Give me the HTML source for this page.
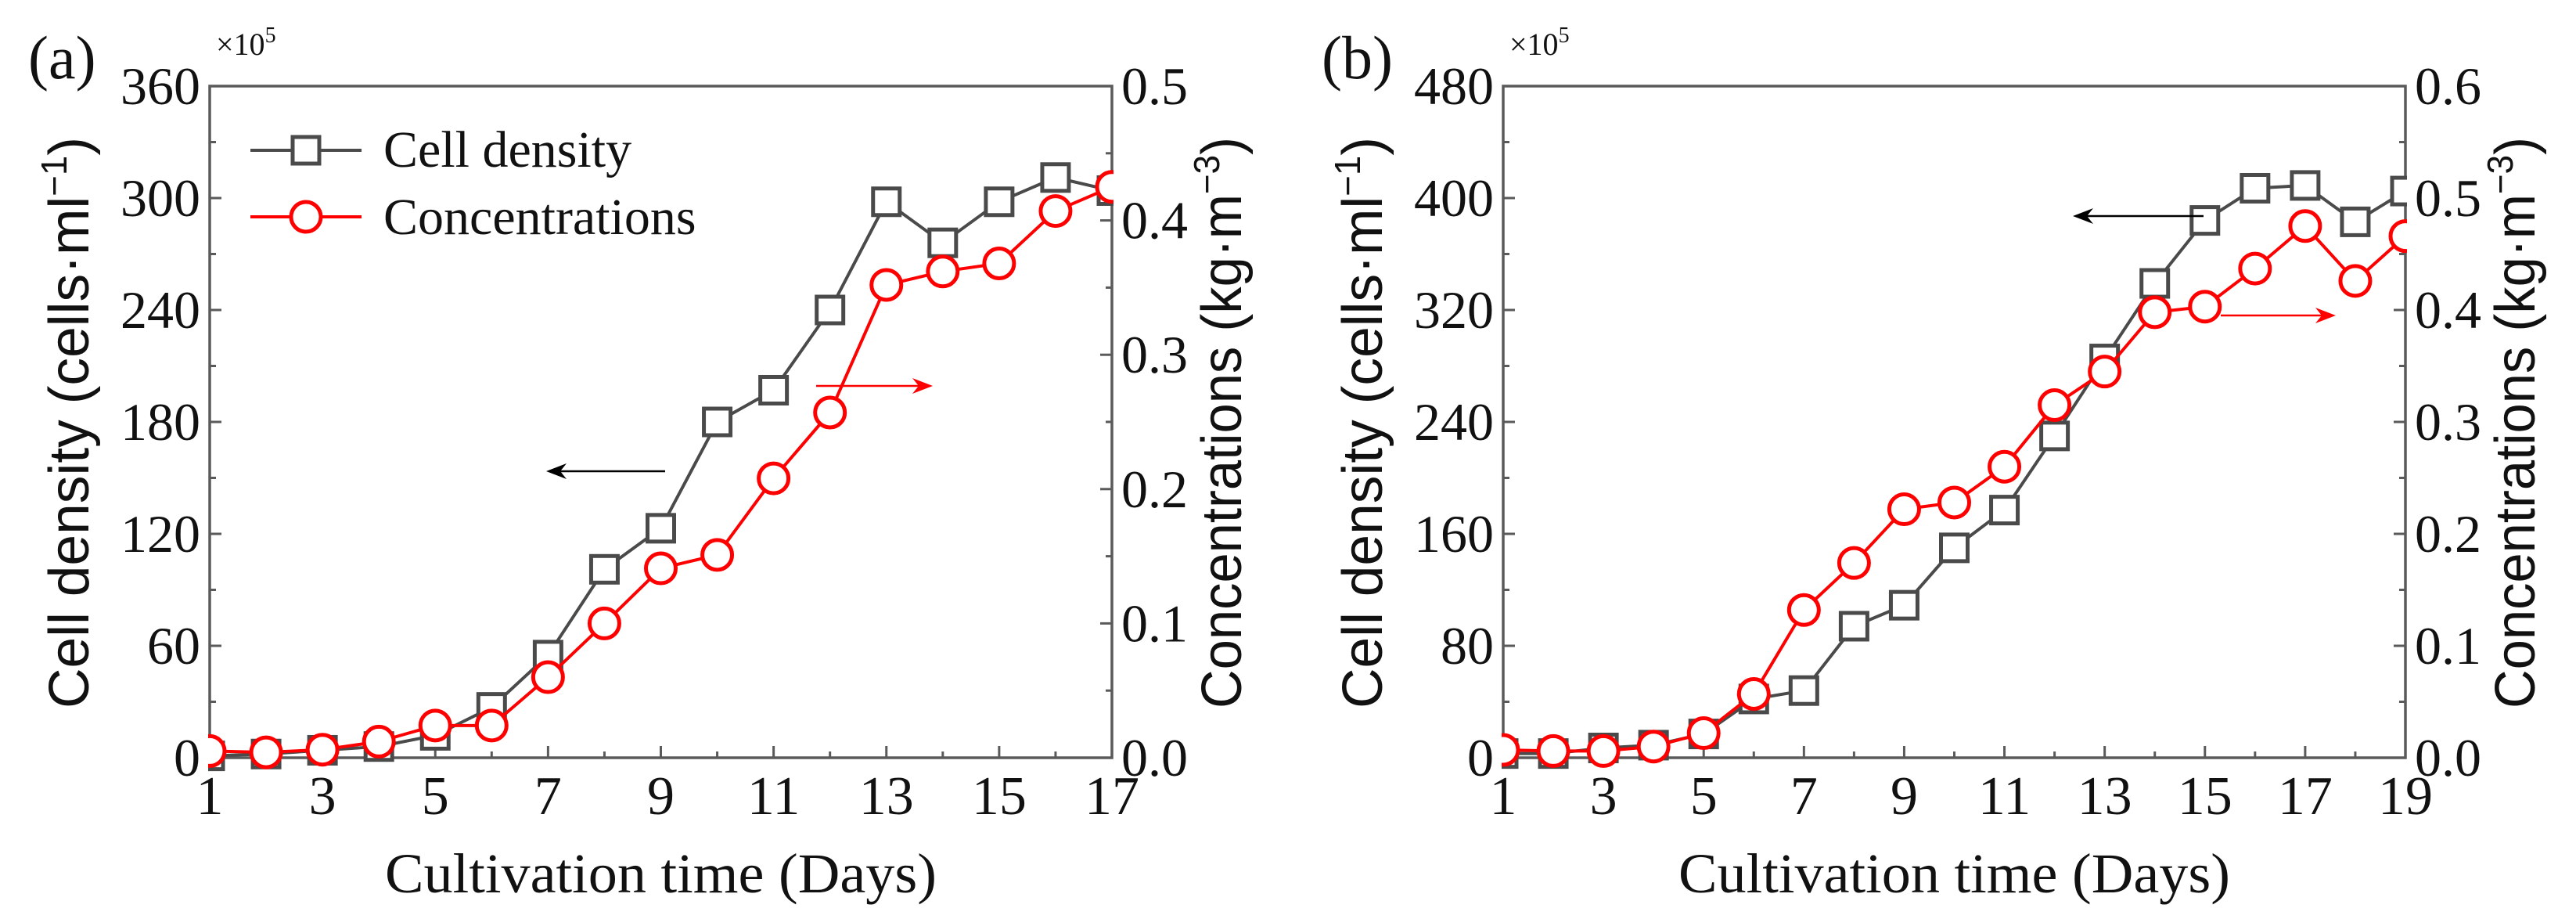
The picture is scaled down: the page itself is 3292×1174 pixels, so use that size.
<!DOCTYPE html>
<html><head><meta charset="utf-8"><style>
html,body{margin:0;padding:0;background:#fff}
svg{display:block}
text{font-family:"Liberation Serif",serif}
text.sans{font-family:"Liberation Sans",sans-serif}
</style></head><body>
<svg id="chart" width="3292" height="1174" viewBox="0 0 3292 1174" xmlns="http://www.w3.org/2000/svg"></svg>
<script>
const daysA=[1,2,3,4,5,6,7,8,9,10,11,12,13,14,15,16,17];
const cellA=[1,2,4,6,12,27,55,101,123,180,197,240,298,276,298,311,304];
const concA=[0.005,0.004,0.006,0.012,0.024,0.024,0.06,0.10,0.141,0.151,0.208,0.257,0.352,0.362,0.368,0.407,0.425];
const daysB=[1,2,3,4,5,6,7,8,9,10,11,12,13,14,15,16,17,18,19];
const cellB=[3,3,7,9,17,42,48,94,109,150,177,230,285,339,384,407,409,383,405];
const concB=[0.007,0.006,0.006,0.010,0.022,0.057,0.132,0.174,0.222,0.228,0.260,0.315,0.345,0.398,0.403,0.437,0.475,0.426,0.466];
const xTicksA=[1,3,5,7,9,11,13,15,17];
const xTicksB=[1,3,5,7,9,11,13,15,17,19];
const yTicksA=[0,60,120,180,240,300,360];
const yTicksB=[0,80,160,240,320,400,480];
const y2TicksA=[0.0,0.1,0.2,0.3,0.4,0.5];
const y2TicksB=[0.0,0.1,0.2,0.3,0.4,0.5,0.6];

const NS="http://www.w3.org/2000/svg";
const svg=document.getElementById('chart');
function mk(tag,attrs,parent,text){const e=document.createElementNS(NS,tag);for(const k in attrs)e.setAttribute(k,attrs[k]);if(text!==undefined)e.textContent=text;(parent||svg).appendChild(e);return e;}

function panel(o){
  const g=mk('g',{});
  
  
  const L=o.L,R=o.R,T=110,B=968;
  const x=d=>L+(d-o.xmin)/(o.xmax-o.xmin)*(R-L);
  const y1=v=>B-v/o.y1max*(B-T);
  const y2=v=>B-v/o.y2max*(B-T);
  const ax='#5a5a5a';
  for(let d=o.xmin;d<=o.xmax;d++){
    const major=o.xTicks.includes(d);
    const t=mk('line',{x1:x(d),x2:x(d),y1:B,y2:B-(major?15:8),stroke:ax,'stroke-width':3},g);
    
    
  }
  o.xTicks.forEach(d=>{
    const t=mk('text',{x:x(d),y:1040,'font-size':70,'text-anchor':'middle',fill:'#111'},g,String(d));
    
    
  });
  const st1=o.yTicks[1]/2;
  for(let v=0;v<=o.y1max+0.001;v+=st1){
    const major=Math.abs((v/o.yTicks[1])-Math.round(v/o.yTicks[1]))<1e-6;
    const t=mk('line',{x1:L,x2:L+(major?15:8),y1:y1(v),y2:y1(v),stroke:ax,'stroke-width':3},g);
    
    
  }
  o.yTicks.forEach(v=>{
    const t=mk('text',{x:L-12,y:y1(v)+23,'font-size':68,'text-anchor':'end',fill:'#111'},g,String(v));
    
    
  });
  for(let v=0;v<=o.y2max+0.0001;v+=0.05){
    const major=Math.abs(v*10-Math.round(v*10))<1e-6;
    const t=mk('line',{x1:R,x2:R-(major?15:8),y1:y2(v),y2:y2(v),stroke:ax,'stroke-width':3},g);
    
    
  }
  o.y2Ticks.forEach(v=>{
    const t=mk('text',{x:R+12,y:y2(v)+23,'font-size':68,'text-anchor':'start',fill:'#111'},g,v.toFixed(1));
    
    
  });
  const fr=mk('rect',{x:L,y:T,width:R-L,height:B-T,fill:'none',stroke:ax,'stroke-width':3.5},g);
  
  
  const clip=mk('clipPath',{id:'clip'+o.id},g);
  mk('rect',{x:L-2,y:T-30,width:R-L+4,height:B-T+60},clip);
  const sg=mk('g',{'clip-path':'url(#clip'+o.id+')'},g);
  const p1=mk('polyline',{points:o.days.map((d,i)=>x(d)+','+y1(o.cell[i])).join(' '),fill:'none',stroke:'#4a4a4a','stroke-width':4},sg);
  
  
  o.days.forEach((d,i)=>{
    const m=mk('rect',{x:x(d)-17,y:y1(o.cell[i])-17,width:34,height:34,fill:'#fff',stroke:'#4a4a4a','stroke-width':5},sg);
    
    
  });
  const p2=mk('polyline',{points:o.days.map((d,i)=>x(d)+','+y2(o.conc[i])).join(' '),fill:'none',stroke:'#f00','stroke-width':4},sg);
  
  
  o.days.forEach((d,i)=>{
    const m=mk('circle',{cx:x(d),cy:y2(o.conc[i]),r:19,fill:'#fff',stroke:'#f00','stroke-width':5},sg);
    
    
  });
  const a1=mk('g',{},g);
  
  
  mk('line',{x1:o.ba[0],x2:o.ba[1]+4,y1:o.ba[2],y2:o.ba[2],stroke:'#000','stroke-width':2.5},a1);
  mk('path',{d:`M${o.ba[1]} ${o.ba[2]} l26 -10 l-8 10 l8 10z`,fill:'#000'},a1);
  const a2=mk('g',{},g);
  
  
  mk('line',{x1:o.ra[0],x2:o.ra[1]-4,y1:o.ra[2],y2:o.ra[2],stroke:'#f00','stroke-width':2.5},a2);
  mk('path',{d:`M${o.ra[1]} ${o.ra[2]} l-26 -10 l8 10 l-8 10z`,fill:'#f00'},a2);
  const pl=mk('text',{x:L-232,y:100,'font-size':78,fill:'#111'},g,'('+o.id+')');
  
  
  const ex=mk('text',{x:L+8,y:70,'font-size':40,fill:'#111'},g,'×10');
  
  
  mk('tspan',{dy:-16,'font-size':28},ex,'5');
  const xt=mk('text',{x:(L+R)/2,y:1140,'font-size':72,'text-anchor':'middle',fill:'#111',textLength:705,lengthAdjust:'spacingAndGlyphs'},g,'Cultivation time (Days)');
  
  
  const yt=mk('text',{class:'sans',transform:`translate(${L-155},540) rotate(-90)`,'font-size':72,'text-anchor':'middle',fill:'#111',textLength:730,lengthAdjust:'spacingAndGlyphs'},g,'Cell density (cells·ml');
  
  
  mk('tspan',{dy:-28,'font-size':46},yt,'−1');
  mk('tspan',{dy:28},yt,')');
  const yt2=mk('text',{class:'sans',transform:`translate(${R+165},540) rotate(-90)`,'font-size':72,'text-anchor':'middle',fill:'#111',textLength:730,lengthAdjust:'spacingAndGlyphs'},g,'Concentrations (kg·m');
  
  
  mk('tspan',{dy:-28,'font-size':46},yt2,'−3');
  mk('tspan',{dy:28},yt2,')');
  if(o.legend){
    const lg=mk('g',{},g);
    
    
    const e1=mk('g',{},lg);
    
    
    mk('line',{x1:320,x2:462,y1:192,y2:192,stroke:'#4a4a4a','stroke-width':4},e1);
    mk('rect',{x:374,y:175,width:34,height:34,fill:'#fff',stroke:'#4a4a4a','stroke-width':5},e1);
    mk('text',{x:490,y:213,'font-size':66,fill:'#111'},e1,'Cell density');
    const e2=mk('g',{},lg);
    
    
    mk('line',{x1:320,x2:462,y1:277,y2:277,stroke:'#f00','stroke-width':4},e2);
    mk('circle',{cx:391,cy:277,r:19,fill:'#fff',stroke:'#f00','stroke-width':5},e2);
    mk('text',{x:490,y:299,'font-size':66,fill:'#111'},e2,'Concentrations');
  }
}
panel({id:'a',L:268,R:1421,xmin:1,xmax:17,y1max:360,y2max:0.5,days:daysA,cell:cellA,conc:concA,xTicks:xTicksA,yTicks:yTicksA,y2Ticks:y2TicksA,ba:[850,698,602],ra:[1043,1192,493],legend:true});
panel({id:'b',L:1921,R:3074,xmin:1,xmax:19,y1max:480,y2max:0.6,days:daysB,cell:cellB,conc:concB,xTicks:xTicksB,yTicks:yTicksB,y2Ticks:y2TicksB,ba:[2816,2649,276],ra:[2838,2985,403],legend:false});
</script>
</body></html>
